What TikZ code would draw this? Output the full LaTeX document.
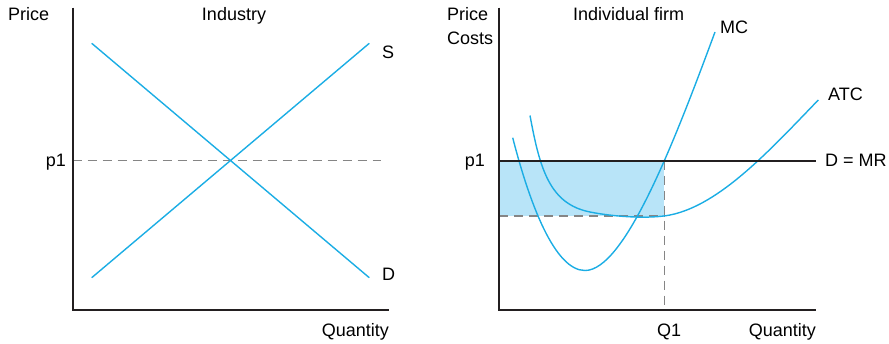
\documentclass[tikz,border=0pt]{standalone}
\usepackage{fontspec}
\setmainfont{Liberation Sans}
\usetikzlibrary{positioning}
\definecolor{curveblue}{HTML}{1BADE4}
\definecolor{profitfill}{HTML}{B8E4F8}
\definecolor{guidegray}{HTML}{858585}
\definecolor{axisblack}{HTML}{231F20}

\begin{document}
\begin{tikzpicture}[x=1pt, y=-1pt, font=\fontsize{18}{20}\selectfont]
  \tikzset{axis/.style={draw=axisblack, line width=2pt},
           curve/.style={draw=curveblue, line width=1.4pt},
           guide/.style={draw=guidegray, line width=1.2pt, dash pattern=on 9pt off 6pt},
           lbl/.style={inner sep=0pt, anchor=base west}}
  \useasboundingbox (0,0) rectangle (889,343);

  % industry
  \coordinate (ltop) at (72.5,7.5);
  \coordinate (lorig) at (72.5,310);
  \coordinate (lend) at (389,310);
  \coordinate (lp1) at (72.5,160.7);
  \coordinate (lp1end) at (381,160.7);
  \coordinate (dtop) at (91.7,43.3);
  \coordinate (dbot) at (369.3,277.7);
  \coordinate (sbot) at (91.7,277.7);
  \coordinate (stop) at (369.3,43.3);
  \draw[guide] (lp1) -- (lp1end);
  \draw[curve] (dtop) -- (dbot);
  \draw[curve] (sbot) -- (stop);
  \draw[axis] (ltop) -- (lorig) -- (lend);
  \node[lbl] (lprice) at (8,20.7) {Price};
  \node[lbl, anchor=base] (industry) at (234,20.7) {Industry};
  \node[lbl, anchor=base east] (lp1lbl) at (66,166) {p1};
  \node[lbl] (slbl) at (382,58.3) {S};
  \node[lbl] (dlbl) at (382,280) {D};
  \node[lbl, anchor=base east] (lqty) at (389,336) {Quantity};

  % individual firm
  \coordinate (rtop) at (499,7.5);
  \coordinate (rorig) at (499,310);
  \coordinate (rend) at (816,310);
  \coordinate (rp1) at (499,160.7);
  \coordinate (rmr) at (816,160.7);
  \coordinate (rcost) at (499,216);
  \coordinate (rmin) at (664.3,216);
  \coordinate (rq) at (664.3,160.7);
  \coordinate (rq0) at (664.3,310);
  \fill[profitfill] (rp1) rectangle (rmin);
  \draw[guide] (rcost) -- (rmin);
  \draw[guide] (rq) -- (rq0);
  % MC
  \draw[curve] (512.7,137.7) .. controls (530,205) and (555,270.5) .. (585,270.5)
    .. controls (625,270.5) and (675,140) .. (715,32);
  % ATC
  \draw[curve] (530,115.5) .. controls (540,170) and (550,204) .. (590,212)
    .. controls (615,217) and (650,219) .. (670,215)
    .. controls (720,205) and (770,150) .. (818.3,100);
  \draw[axis] (rp1) -- (rmr);
  \draw[axis] (rtop) -- (rorig) -- (rend);
  \node[lbl] (rprice) at (447,20.7) {Price};
  \node[lbl] (rcosts) at (447,44) {Costs};
  \node[lbl] (firm) at (573,20.7) {Individual firm};
  \node[lbl] (mclbl) at (720,33.3) {MC};
  \node[lbl] (atclbl) at (828,100) {ATC};
  \node[lbl] (mrlbl) at (825,166) {D = MR};
  \node[lbl, anchor=base east] (rp1lbl) at (485,166) {p1};
  \node[lbl] (q1lbl) at (657,336) {Q1};
  \node[lbl, anchor=base east] (rqty) at (816,336) {Quantity};
\end{tikzpicture}
\end{document}
